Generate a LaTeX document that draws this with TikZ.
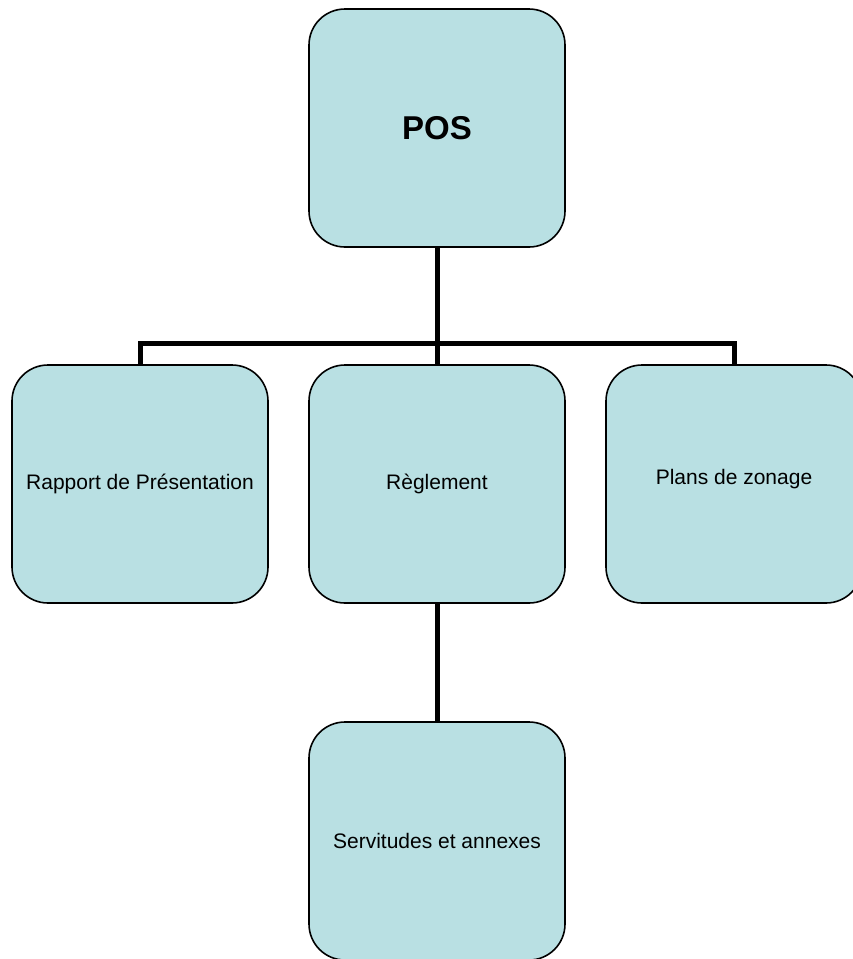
\documentclass[tikz,border=0pt]{standalone}
\usepackage{fontspec}
\setmainfont{Liberation Sans}
\definecolor{boxfill}{RGB}{185,224,227}
\begin{document}
\begin{tikzpicture}[x=1pt,y=-1pt,
  box/.style={draw=black, line width=1.6pt, fill=boxfill, rounded corners=36pt,
    minimum width=256pt, minimum height=238pt, inner sep=0pt, anchor=center,
    font=\fontsize{21}{25}\selectfont},
  conn/.style={draw=black, line width=5pt, line join=miter}]
\useasboundingbox (0,0) rectangle (852,959);
\node[box, font=\fontsize{33}{37}\bfseries] (pos) at (437,128) {\raisebox{-3pt}{POS}};
\node[box] (rap) at (140,484) {\raisebox{-3pt}{Rapport de Présentation}};
\node[box] (reg) at (437,484) {\raisebox{-4pt}{Règlement}};
\node[box] (plan) at (734,484) {\raisebox{14pt}{Plans de zonage}};
\node[box] (serv) at (437,841) {\raisebox{-4pt}{Servitudes et annexes}};
\coordinate (junc) at (437,343);
\draw[conn] (pos.south) -- (reg.north);
\draw[conn] (rap.north) |- (junc) -| (plan.north);
\draw[conn] (reg.south) -- (serv.north);
\end{tikzpicture}
\end{document}
